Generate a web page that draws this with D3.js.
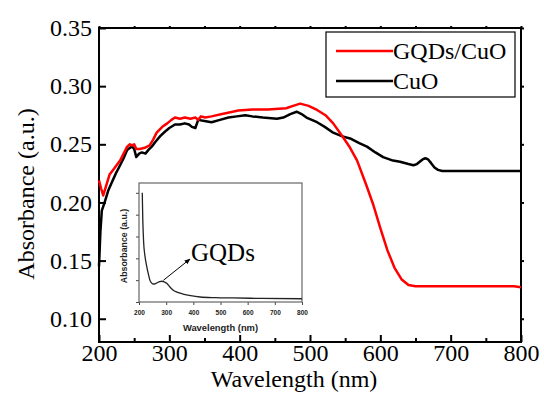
<!DOCTYPE html>
<html><head><meta charset="utf-8">
<script src="https://cdn.jsdelivr.net/npm/d3@7"></script>
<style>html,body{margin:0;padding:0;background:#fff}</style>
</head><body>
<svg id="c" width="544" height="412"></svg>
<script>
// ---- data ----
const redNm  = [200,203,206,210,215,220,225,230,235,240,244,247,250,253,258,265,272,277,282,290,297,303,308,315,322,330,337,341,345,351,360,375,390,398,418,440,466,476,486,498,510,522,533,547,557,567,580,590,600,610,620,630,640,650,700,750,790,800];
const redAbs = [0.219,0.212,0.206,0.214,0.224,0.228,0.232,0.236,0.242,0.248,0.250,0.249,0.250,0.246,0.246,0.247,0.249,0.254,0.260,0.265,0.268,0.271,0.273,0.272,0.273,0.272,0.273,0.271,0.274,0.273,0.274,0.276,0.278,0.279,0.280,0.280,0.281,0.283,0.285,0.283,0.2795,0.275,0.268,0.256,0.247,0.236,0.215,0.198,0.178,0.159,0.144,0.134,0.129,0.128,0.128,0.128,0.128,0.127];
const blkNm  = [200,202,204,208,213,218,224,230,235,240,244,247,250,253,257,261,266,270,275,280,287,294,300,308,315,322,328,332,337,341,350,360,372,384,396,408,418,433,453,462,472,481,488,495,510,521,533,545,557,570,581,593,604,618,628,640,647,652,656,660,664,668,672,677,682,688,700,723,750,800];
const blkAbs = [0.145,0.175,0.193,0.200,0.210,0.217,0.225,0.232,0.238,0.245,0.247,0.248,0.246,0.239,0.242,0.243,0.242,0.245,0.248,0.252,0.257,0.261,0.264,0.267,0.267,0.268,0.267,0.265,0.264,0.271,0.270,0.269,0.271,0.273,0.274,0.275,0.274,0.273,0.272,0.273,0.276,0.278,0.276,0.273,0.269,0.265,0.260,0.257,0.255,0.251,0.248,0.243,0.239,0.236,0.235,0.233,0.232,0.233,0.235,0.237,0.238,0.237,0.234,0.230,0.228,0.227,0.227,0.227,0.227,0.227];
const insetNm  = [212,214,217,222,229,235,240,246,252,259,266,276,285,294,303,313,325,340,362,390,425,480,546,650,800];
const insetAbs = [1.0,0.75,0.55,0.42,0.32,0.25,0.2,0.175,0.165,0.167,0.175,0.186,0.19,0.183,0.17,0.14,0.11,0.09,0.073,0.058,0.046,0.04,0.037,0.033,0.03];
const xTicks = [200,300,400,500,600,700,800];
const yTicks = [0.10,0.15,0.20,0.25,0.30,0.35];
const insetXTicks = [200,300,400,500,600,700,800];
const insetYTicks = [0,0.2,0.4,0.6,0.8,1.0];
const seriesNames = ["GQDs/CuO","CuO"];
const seriesColors = ["#ff0000","#000000"];

const svg = d3.select("#c");
const serif = "'Liberation Serif','Times New Roman',serif";
const sans = "'Liberation Sans',Arial,sans-serif";
const L=99,R=521,T=28,B=342;
const x = d3.scaleLinear().domain([200,800]).range([L,R]);
const y = d3.scaleLinear().domain([0.08,0.35]).range([B,T]);

// axes
const gx = svg.append("g").attr("transform",`translate(0,${B})`)
  .call(d3.axisBottom(x).tickValues(d3.range(200,801,50)).tickSize(-4).tickFormat(""));
gx.selectAll(".tick line").filter(d=>d%100===0).attr("y2",-7);
const gxl = svg.append("g").attr("transform",`translate(0,${B})`)
  .call(d3.axisBottom(x).tickValues(xTicks).tickSize(0).tickPadding(2).tickFormat(d3.format("d")));
const gy = svg.append("g").attr("transform",`translate(${L},0)`)
  .call(d3.axisLeft(y).tickValues(yTicks).tickSize(-7).tickPadding(7).tickFormat(d3.format(".2f")));
gy.selectAll(".tick text").attr("x",-7);
const gt = svg.append("g").attr("transform",`translate(0,${T})`)
  .call(d3.axisTop(x).tickValues(d3.range(200,801,50)).tickSize(2).tickFormat(""));
const gr = svg.append("g").attr("transform",`translate(${R},0)`)
  .call(d3.axisRight(y).tickValues(yTicks).tickSize(3).tickFormat(""));
[gx,gxl,gy,gt,gr].forEach(g=>{
  g.select(".domain").remove();
  g.selectAll(".tick line").attr("stroke","#000").attr("stroke-width",2);
  g.selectAll(".tick text").attr("font-family",serif).attr("font-size",24).attr("fill","#000");
});
svg.append("rect").attr("x",L).attr("y",T).attr("width",R-L).attr("height",B-T)
  .attr("fill","none").attr("stroke","#000").attr("stroke-width",2);

// inset
const iL=139,iR=302,iT=183,iB=302;
const ix = d3.scaleLinear().domain([200,800]).range([iL,iR]);
const iy = d3.scaleLinear().domain([0,1.09]).range([iB,iT]);
const gix = svg.append("g").attr("transform",`translate(0,${iB})`)
  .call(d3.axisBottom(ix).tickValues(insetXTicks).tickSize(3).tickPadding(5));
const giy = svg.append("g").attr("transform",`translate(${iL},0)`)
  .call(d3.axisLeft(iy).tickValues(insetYTicks).tickSize(3).tickFormat(""));
[gix,giy].forEach(g=>{
  g.select(".domain").remove();
  g.selectAll(".tick line").attr("stroke","#444").attr("stroke-width",1);
  g.selectAll(".tick text").attr("font-family",sans)
   .attr("font-size",6.5).attr("font-weight","bold").attr("fill","#222");
});
svg.append("rect").attr("x",iL).attr("y",iT).attr("width",iR-iL).attr("height",iB-iT)
  .attr("fill","none").attr("stroke","#666").attr("stroke-width",1.2);
svg.append("path").datum(insetNm.map((d,i)=>[d,insetAbs[i]]))
  .attr("d",d3.line().x(d=>ix(d[0])).y(d=>iy(d[1])).curve(d3.curveMonotoneX))
  .attr("fill","none").attr("stroke","#222").attr("stroke-width",1.3);
svg.append("text").attr("x",(iL+iR)/2).attr("y",331).attr("text-anchor","middle")
  .attr("font-family",sans).attr("font-weight","bold")
  .attr("font-size",9.4).attr("fill","#222").text("Wavelength (nm)");
svg.append("text").attr("transform",`translate(127,246) rotate(-90)`).attr("text-anchor","middle")
  .attr("font-family",sans).attr("font-weight","bold")
  .attr("font-size",8.8).attr("fill","#222").text("Absorbance (a.u.)");
// annotation
svg.append("defs").append("marker").attr("id","ah").attr("viewBox","0 0 10 10")
  .attr("refX",9).attr("refY",5).attr("markerWidth",6).attr("markerHeight",6).attr("orient","auto")
  .append("path").attr("d","M0,1L10,5L0,9z").attr("fill","#000");
svg.append("line").attr("x1",ix(290)).attr("y1",iy(0.19)-1).attr("x2",190).attr("y2",259)
  .attr("stroke","#000").attr("stroke-width",1).attr("marker-end","url(#ah)");
svg.append("text").attr("x",191).attr("y",261).attr("font-family",serif).attr("font-size",25)
  .attr("fill","#000").text("GQDs");

// main lines
const line = d3.line().x(d=>x(d[0])).y(d=>y(d[1]));
svg.append("path").datum(blkNm.map((d,i)=>[d,blkAbs[i]])).attr("d",line)
  .attr("fill","none").attr("stroke",seriesColors[1]).attr("stroke-width",2.5).attr("stroke-linejoin","round");
svg.append("path").datum(redNm.map((d,i)=>[d,redAbs[i]])).attr("d",line)
  .attr("fill","none").attr("stroke",seriesColors[0]).attr("stroke-width",2.5).attr("stroke-linejoin","round");

// legend
svg.append("rect").attr("x",326).attr("y",32).attr("width",189).attr("height",65)
  .attr("fill","#fff").attr("stroke","#000").attr("stroke-width",1.2);
seriesNames.forEach((n,i)=>{
  const yy = 51 + i*30;
  svg.append("line").attr("x1",336).attr("x2",393).attr("y1",yy).attr("y2",yy)
    .attr("stroke",seriesColors[i]).attr("stroke-width",2.5);
  svg.append("text").attr("x",393).attr("y",yy+8).attr("font-family",serif).attr("font-size",24)
    .attr("fill","#000").text(n);
});

// axis titles
svg.append("text").attr("x",(L+R)/2-16).attr("y",387).attr("text-anchor","middle")
  .attr("font-family",serif).attr("font-size",24).attr("fill","#000").text("Wavelength (nm)");
svg.append("text").attr("transform",`translate(34,194) rotate(-90)`).attr("text-anchor","middle")
  .attr("font-family",serif).attr("font-size",24).attr("fill","#000").text("Absorbance (a.u.)");
</script>
</body></html>
